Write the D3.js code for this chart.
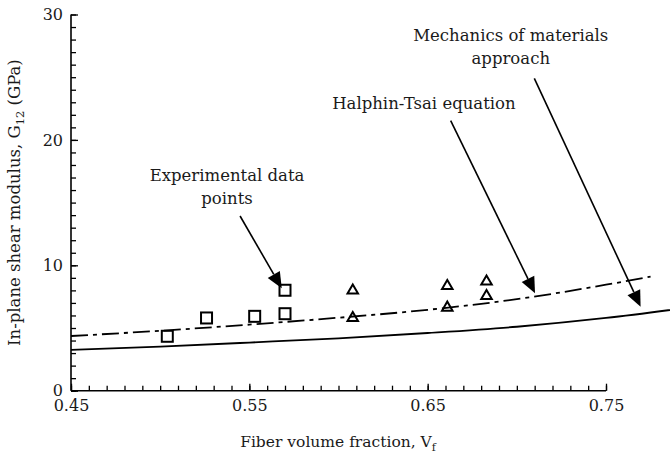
<!DOCTYPE html>
<html>
<head>
<meta charset="utf-8">
<script src="https://cdn.jsdelivr.net/npm/d3@7"></script>
<style>
  html, body { margin: 0; padding: 0; background: #fff; }
  svg { display: block; }
  text { font-family: "DejaVu Serif", serif; fill: #1a1a1a; }
</style>
</head>
<body>
<svg id="chart" width="670" height="453"></svg>
<script>
// Fiber volume fraction vs in-plane shear modulus G12 (GPa)

// Experimental data, series 1 (squares)
const squareVf  = [0.504, 0.526, 0.553, 0.570, 0.570];
const squareG12 = [4.34, 5.80, 5.93, 6.14, 8.01];

// Experimental data, series 2 (triangles)
const triangleVf  = [0.608, 0.608, 0.661, 0.661, 0.683, 0.683];
const triangleG12 = [8.07, 5.88, 8.43, 6.70, 8.79, 7.63];

// Halphin-Tsai prediction (dash-dot)
const halpinVf  = [0.45, 0.50, 0.55, 0.60, 0.65, 0.70, 0.75, 0.775];
const halpinG12 = [4.36, 4.78, 5.27, 5.82, 6.45, 7.30, 8.45, 9.10];

// Mechanics of materials prediction (solid)
const mechVf  = [0.45, 0.50, 0.55, 0.60, 0.65, 0.70, 0.75, 0.80];
const mechG12 = [3.25, 3.52, 3.84, 4.18, 4.60, 5.10, 5.80, 6.70];

// Axis ticks
const xTickLabels = [0.45, 0.55, 0.65, 0.75];
const yTickLabels = [0, 10, 20, 30];

const svg = d3.select("#chart");
const W = 670, H = 453;
const FONT = "DejaVu Serif";
const x = d3.scaleLinear().domain([0.45, 0.75]).range([71, 606]);
const y = d3.scaleLinear().domain([0, 30]).range([390.7, 14.5]);

// clip to the page area
svg.append("defs").append("clipPath").attr("id", "page")
  .append("rect").attr("x", 0).attr("y", 0).attr("width", W).attr("height", H);

// ---- axes ----
const xMinor = d3.range(45, 76).map(d => d / 100);
const yMinor = d3.range(0, 31);

const gx = svg.append("g").attr("transform", `translate(0,${y(0)})`);
gx.append("g").call(d3.axisBottom(x).tickValues(xMinor).tickSize(-5).tickFormat(""))
  .call(g => g.select(".domain").remove());
gx.append("g").call(d3.axisBottom(x).tickValues(xTickLabels).tickSize(-7).tickPadding(9)
    .tickFormat(d3.format(".2f")))
  .call(g => g.select(".domain").remove())
  .call(g => g.attr("font-family", FONT).selectAll("text").attr("font-size", 16));
gx.append("line").attr("x1", x(0.45)).attr("x2", x(0.75)).attr("y1", 0).attr("y2", 0)
  .attr("stroke", "#000").attr("stroke-width", 1.6);

const gy = svg.append("g").attr("transform", `translate(${x(0.45)},0)`);
gy.append("g").call(d3.axisLeft(y).tickValues(yMinor).tickSize(-5).tickFormat(""))
  .call(g => g.select(".domain").remove());
gy.append("g").call(d3.axisLeft(y).tickValues(yTickLabels).tickSize(-7).tickPadding(8)
    .tickFormat(d3.format("d")))
  .call(g => g.select(".domain").remove())
  .call(g => g.attr("font-family", FONT).selectAll("text").attr("font-size", 16));
gy.append("line").attr("x1", 0).attr("x2", 0).attr("y1", y(0)).attr("y2", y(30))
  .attr("stroke", "#000").attr("stroke-width", 1.6);

svg.selectAll(".tick line").attr("stroke", "#000").attr("stroke-width", 1.3);

// axis titles
const xt = svg.append("text").attr("x", 338).attr("y", 447)
  .attr("text-anchor", "middle").attr("font-size", 15.5);
xt.append("tspan").text("Fiber volume fraction, V");
xt.append("tspan").attr("font-size", 11).attr("dy", 4).text("f");

const yt = svg.append("text")
  .attr("transform", `translate(20,${(y(0) + y(30)) / 2}) rotate(-90)`)
  .attr("text-anchor", "middle").attr("font-size", 16.5);
yt.append("tspan").text("In-plane shear modulus, G");
yt.append("tspan").attr("font-size", 11.5).attr("dy", 4).text("12");
yt.append("tspan").attr("dy", -4).text(" (GPa)");

// ---- curves ----
const plot = svg.append("g").attr("clip-path", "url(#page)");
const line = d3.line().x(d => x(d[0])).y(d => y(d[1])).curve(d3.curveMonotoneX);

plot.append("path").datum(d3.zip(mechVf, mechG12))
  .attr("d", line).attr("fill", "none").attr("stroke", "#000").attr("stroke-width", 1.8);

plot.append("path").datum(d3.zip(halpinVf, halpinG12))
  .attr("d", line).attr("fill", "none").attr("stroke", "#000").attr("stroke-width", 1.8)
  .attr("stroke-dasharray", "17,5,4,5");

// ---- markers ----
const sq = 11;
plot.selectAll(".sq").data(d3.zip(squareVf, squareG12)).join("rect")
  .attr("x", d => x(d[0]) - sq / 2).attr("y", d => y(d[1]) - sq / 2)
  .attr("width", sq).attr("height", sq)
  .attr("fill", "none").attr("stroke", "#000").attr("stroke-width", 2);

const tri = d3.symbol().type(d3.symbolTriangle).size(48);
plot.selectAll(".tri").data(d3.zip(triangleVf, triangleG12)).join("path")
  .attr("d", tri).attr("transform", d => `translate(${x(d[0])},${y(d[1]) + 1})`)
  .attr("fill", "none").attr("stroke", "#000").attr("stroke-width", 2);

// ---- annotations ----
const notes = [
  { lines: ["Experimental data", "points"], at: [0.5375, 16.72], from: [0.5448, 13.93], to: [0.5682, 8.17] },
  { lines: ["Halphin-Tsai equation"], at: [0.6479, 22.5], from: [0.6629, 21.53], to: [0.7102, 7.77] },
  { lines: ["Mechanics of materials", "approach"], at: [0.6966, 27.91], from: [0.7098, 24.91], to: [0.7694, 6.70] }
];

const headLen = 16, headHalf = 7;
notes.forEach(n => {
  const t = svg.append("text").attr("text-anchor", "middle").attr("font-size", 16.5)
    .attr("x", x(n.at[0])).attr("y", y(n.at[1]));
  n.lines.forEach((s, i) => t.append("tspan").attr("x", x(n.at[0])).attr("dy", i ? 23.4 : 0).text(s));

  const x0 = x(n.from[0]), y0 = y(n.from[1]), x1 = x(n.to[0]), y1 = y(n.to[1]);
  const a = Math.atan2(y1 - y0, x1 - x0);
  const bx = x1 - headLen * Math.cos(a), by = y1 - headLen * Math.sin(a);
  plot.append("line").attr("x1", x0).attr("y1", y0).attr("x2", bx).attr("y2", by)
    .attr("stroke", "#000").attr("stroke-width", 1.6);
  const px = -Math.sin(a) * headHalf, py = Math.cos(a) * headHalf;
  plot.append("path")
    .attr("d", `M${x1},${y1}L${bx + px},${by + py}L${bx - px},${by - py}Z`)
    .attr("fill", "#000");
});
</script>
</body>
</html>
